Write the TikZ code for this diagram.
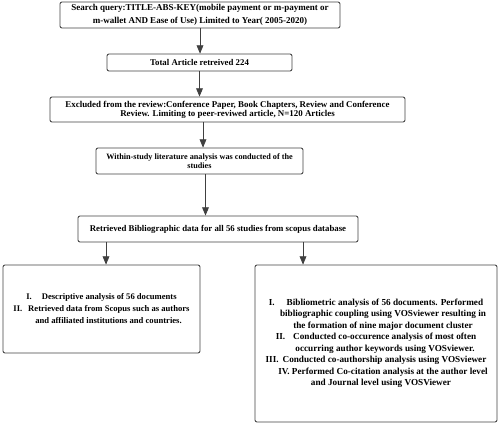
\documentclass[tikz,border=0pt]{standalone}
\usepackage{fontspec}
\setmainfont{Liberation Serif}
\usetikzlibrary{arrows}
\definecolor{linegray}{RGB}{64,64,64}

\begin{document}
\begin{tikzpicture}[line cap=round,line join=round,>=triangle 45,x=1pt,y=-1pt,
  box/.style={draw=linegray,line width=0.9pt,rounded corners=2pt,align=center,inner sep=0pt,font=\bfseries\fontsize{8.8}{9.5}\selectfont},
  flow/.style={->,draw=linegray,line width=0.9pt}]
\useasboundingbox (0,0) rectangle (500,425);
\node[box,minimum width=280pt,minimum height=26pt,font=\bfseries\fontsize{9}{12.5}\selectfont] (query) at (200,15) {Search query:TITLE-ABS-KEY(mobile payment or m-payment or\\ m-wallet AND Ease of Use) Limited to Year( 2005-2020)};
\node[box,minimum width=185pt,minimum height=17pt] (total) at (199.5,62.5) {Total Article retreived 224};
\node[box,minimum width=355pt,minimum height=25pt,font=\bfseries\fontsize{8.9}{9}\selectfont] (excluded) at (227.5,109.5) {Excluded from the review:Conference Paper, Book Chapters, Review and Conference\\ Review. Limiting to peer-reviwed article, N=120 Articles};
\node[box,minimum width=207pt,minimum height=26pt,font=\bfseries\fontsize{8.2}{8.5}\selectfont] (within) at (199.5,161) {Within-study literature analysis was conducted of the\\ studies};
\node[box,minimum width=280pt,minimum height=26pt] (biblio) at (218,229) {Retrieved Bibliographic data for all 56 studies from scopus database};
\node[box,minimum width=197pt,minimum height=88pt,font=\bfseries\fontsize{8.6}{12}\selectfont] (descr) at (101.5,309) {I.\hspace{10pt}Descriptive analysis of 56 documents\\ II.\hspace{6pt}Retrieved data from Scopus such as authors\\ \hspace{14pt}and affiliated institutions and countries.};
\node[box,minimum width=242pt,minimum height=157pt,font=\bfseries\fontsize{9.2}{11.5}\selectfont] (analysis) at (376,343.5) {I.\hspace{12pt}Bibliometric analysis of 56 documents. Performed\\ \hspace{14pt}bibliographic coupling using VOSviewer resulting in\\ \hspace{14pt}the formation of nine major document cluster\\ II.\hspace{8pt}Conducted co-occurence analysis of most often\\ \hspace{18pt}occurring author keywords using VOSviewer.\\ III.\hspace{4pt}Conducted co-authorship analysis using VOSviewer\\ \hspace{14pt}IV. Performed Co-citation analysis at the author level\\ \hspace{10pt}and Journal level using VOSViewer};
% arrows
\draw[flow] (query.south) -- (query.south |- total.north);
\draw[flow] (total.south) -- (total.south |- excluded.north);
\draw[flow] ([xshift=3.5pt]within.north |- excluded.south) -- ([xshift=3.5pt]within.north);
\draw[flow] ([xshift=6pt]within.south) -- ([xshift=6pt]within.south |- biblio.north);
\draw[flow] ([xshift=4.5pt]descr.north |- biblio.south) -- ([xshift=4.5pt]descr.north);
\draw[flow] ([xshift=85pt]biblio.south) -- ([xshift=85pt]biblio.south |- analysis.north);
\end{tikzpicture}
\end{document}
